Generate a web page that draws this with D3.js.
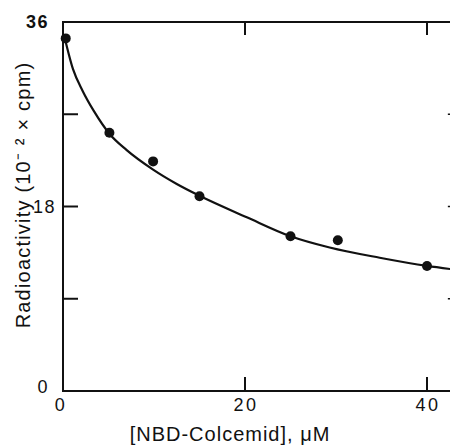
<!DOCTYPE html>
<html><head><meta charset="utf-8">
<script src="https://cdn.jsdelivr.net/npm/d3@7/dist/d3.min.js"></script>
<style>
html,body{margin:0;padding:0;background:#fff;}
svg{display:block;}
text{font-family:"Liberation Sans",Arial,Helvetica,sans-serif;fill:#111;}
</style></head>
<body>
<script>
// Data
const concentration = [0.3, 5.1, 9.9, 15.0, 25.0, 30.2, 40.0];   // µM
const radioactivity = [34.4, 25.2, 22.4, 19.0, 15.1, 14.7, 12.2]; // 10^-2 x cpm
// Fitted curve
const curveX = [0.15, 1.1, 2.2, 3.4, 5.1, 7.0, 9.9, 12.5, 15.0, 20.2, 25.0, 29.3, 34.8, 40.0, 43.0];
const curveY = [34.6, 31.4, 29.2, 27.3, 25.1, 23.5, 21.6, 20.2, 19.05, 16.95, 15.1, 14.0, 13.0, 12.2, 11.85];
const xTicks = [0, 20, 40];
const yTicks = [0, 9, 18, 27, 36];
const yTickLabels = ["0", "", "18", "", "36"];
const xTitle = "[NBD-Colcemid], \u03bcM";
const yTitle = "Radioactivity (10\u207b \u00b2 \u00d7 cpm)";

const W = 450, H = 445;
const svg = d3.select("body").append("svg").attr("width", W).attr("height", H);

const x = d3.scaleLinear().domain([0, 40]).range([63, 427]);
const y = d3.scaleLinear().domain([0, 36]).range([391, 22]);
const xRight = 43.5;

const frame = svg.append("g").attr("stroke", "#111").attr("stroke-width", 2).attr("fill", "none");
frame.append("line").attr("x1", x(0)).attr("x2", x(0)).attr("y1", y(36) - 1).attr("y2", y(0) + 1);
frame.append("line").attr("x1", x(0) - 1).attr("x2", W + 5).attr("y1", y(0)).attr("y2", y(0));
frame.append("line").attr("x1", x(0) - 1).attr("x2", W + 5).attr("y1", y(36)).attr("y2", y(36));
frame.append("line").attr("x1", x(xRight)).attr("x2", x(xRight)).attr("y1", y(36)).attr("y2", y(0));

frame.selectAll(".yl").data(yTicks.filter(v => v > 0 && v < 36)).enter().append("line")
  .attr("x1", x(0)).attr("x2", x(0) + 15).attr("y1", d => y(d)).attr("y2", d => y(d));
frame.selectAll(".yr").data(yTicks.filter(v => v > 0 && v < 36)).enter().append("line")
  .attr("stroke-width", 1.5)
  .attr("x1", x(xRight)).attr("x2", x(xRight) - 11).attr("y1", d => y(d)).attr("y2", d => y(d));
frame.selectAll(".xb").data(xTicks.filter(v => v > 0)).enter().append("line")
  .attr("x1", d => x(d)).attr("x2", d => x(d)).attr("y1", y(0)).attr("y2", y(0) - 14);
frame.selectAll(".xt").data(xTicks.filter(v => v > 0)).enter().append("line")
  .attr("x1", d => x(d)).attr("x2", d => x(d)).attr("y1", y(36)).attr("y2", y(36) + 13);

svg.selectAll(".xl").data(xTicks).enter().append("text")
  .attr("x", d => x(d) - (d === 0 ? 3 : 0) + 1).attr("y", 411)
  .attr("text-anchor", "middle").attr("font-size", 18).attr("letter-spacing", 2.5)
  .text(d => d);
svg.selectAll(".yt").data(yTicks.map((v, i) => ({v, l: yTickLabels[i]})).filter(d => d.l)).enter().append("text")
  .attr("x", d => d.v === 18 ? 56 : 49).attr("y", d => y(d.v) + (d.v === 0 ? -4 : 0))
  .attr("dy", "0.35em")
  .attr("text-anchor", "end").attr("font-size", 18).attr("letter-spacing", 1.5)
  .attr("font-weight", d => d.v === 36 ? "bold" : "normal")
  .text(d => d.l);

svg.append("text").attr("x", 230).attr("y", 441).attr("text-anchor", "middle")
  .attr("font-size", 20).attr("letter-spacing", 1).text(xTitle);
svg.append("text").attr("transform", "translate(30,195) rotate(-90)").attr("text-anchor", "middle")
  .attr("font-size", 20).attr("letter-spacing", 1.2).text(yTitle);

const pts = curveX.map((v, i) => [v, curveY[i]]);
svg.append("path").datum(pts)
  .attr("fill", "none").attr("stroke", "#111").attr("stroke-width", 2.2)
  .attr("d", d3.line().x(d => x(d[0])).y(d => y(d[1])).curve(d3.curveMonotoneX));

svg.selectAll(".pt").data(concentration.map((v, i) => [v, radioactivity[i]])).enter().append("circle")
  .attr("cx", d => x(d[0])).attr("cy", d => y(d[1])).attr("r", 5).attr("fill", "#111");
</script>
</body></html>
